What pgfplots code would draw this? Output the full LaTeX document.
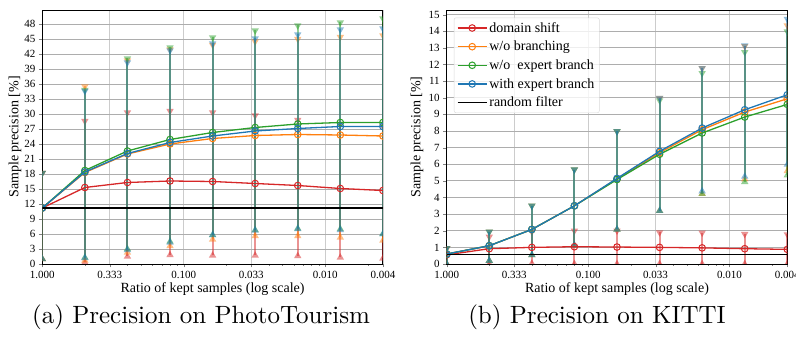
\documentclass[border=0pt]{standalone}
\usepackage{fontspec}
\usepackage{pgfplots}
\usepackage{pgfplotstable}
\pgfplotsset{compat=1.18}
\newfontfamily\timesf{Liberation Serif}
\definecolor{cred}{HTML}{D62728}
\definecolor{corange}{HTML}{FF7F0E}
\definecolor{cgreen}{HTML}{2CA02C}
\definecolor{cblue}{HTML}{1F77B4}

% PhotoTourism
\pgfplotstableread{
x y hi lo
1 11.2 18.2 1.0
0.5 15.3 28.6 0.3
0.25 16.3 30.3 1.5
0.125 16.6 30.6 1.8
0.0625 16.5 30.3 1.7
0.03125 16.1 29.7 1.7
0.015625 15.7 28.8 1.6
0.0078125 15.1 28.0 1.3
0.00390625 14.7 27.5 1.1
}\ptred
\pgfplotstableread{
x y hi lo
1 11.2 18.2 1.0
0.5 18.3 35.5 0.7
0.25 22.0 40.7 2.3
0.125 24.0 42.9 3.6
0.0625 25.1 43.8 4.9
0.03125 25.7 44.5 5.6
0.015625 25.9 45.0 5.6
0.0078125 25.8 45.4 5.3
0.00390625 25.6 45.7 4.7
}\ptorange
\pgfplotstableread{
x y hi lo
1 11.2 18.2 1.0
0.5 18.7 34.8 1.3
0.25 22.6 41.1 3.0
0.125 24.9 43.3 4.5
0.0625 26.3 45.3 5.8
0.03125 27.3 46.7 6.8
0.015625 28.0 47.7 7.1
0.0078125 28.3 48.3 7.0
0.00390625 28.3 49.1 6.0
}\ptgreen
\pgfplotstableread{
x y hi lo
1 11.2 18.2 1.0
0.5 18.4 34.6 1.2
0.25 22.1 40.3 2.8
0.125 24.3 42.7 4.3
0.0625 25.6 44.1 5.8
0.03125 26.6 45.1 6.7
0.015625 27.1 45.9 7.0
0.0078125 27.5 46.9 6.8
0.00390625 27.5 47.1 6.0
}\ptblue

% KITTI
\pgfplotstableread{
x y hi lo
1 0.55 0.95 0.0
0.5 0.92 1.64 0.0
0.25 1.0 1.94 0.03
0.125 1.04 2.0 0.0
0.0625 1.02 2.0 0.0
0.03125 1.0 1.9 0.0
0.015625 0.97 1.88 0.0
0.0078125 0.92 1.8 0.0
0.00390625 0.88 1.78 0.0
}\kired
\pgfplotstableread{
x y hi lo
1 0.6 0.95 0.0
0.5 1.1 1.94 0.2
0.25 2.08 3.5 0.54
0.125 3.5 5.68 1.12
0.0625 5.12 7.98 2.08
0.03125 6.7 9.98 3.2
0.015625 8.08 11.78 4.22
0.0078125 9.14 13.1 5.1
0.00390625 9.94 14.34 5.6
}\kiorange
\pgfplotstableread{
x y hi lo
1 0.6 0.95 0.0
0.5 1.1 1.94 0.2
0.25 2.08 3.5 0.54
0.125 3.5 5.68 1.12
0.0625 5.08 7.98 2.08
0.03125 6.6 9.84 3.2
0.015625 7.88 11.48 4.22
0.0078125 8.84 12.74 4.94
0.00390625 9.6 13.98 5.34
}\kigreen
\pgfplotstableread{
x y hi lo
1 0.6 0.95 0.0
0.5 1.1 1.94 0.2
0.25 2.08 3.5 0.54
0.125 3.5 5.68 1.12
0.0625 5.15 7.98 2.08
0.03125 6.78 9.98 3.2
0.015625 8.18 11.78 4.38
0.0078125 9.28 13.14 5.26
0.00390625 10.18 14.74 5.98
}\kiblue

\newcommand\errs[2]{%
  \addplot[forget plot, mark=none, draw=none,
    error bars/y dir=both, error bars/y explicit, error bars/error mark=none,
    error bars/error bar style={line width=2pt, draw=#2, draw opacity=0.5}]
    table[x=x, y=y, y error plus expr=\thisrow{hi}-\thisrow{y},
          y error minus expr=\thisrow{y}-\thisrow{lo}] {#1};
  \addplot[forget plot, only marks, color=#2, mark=triangle*, mark size=4.3pt,
    mark options={rotate=180, draw=#2, fill=#2, draw opacity=0, fill opacity=0.5}]
    table[x=x, y=hi] {#1};
  \addplot[forget plot, only marks, color=#2, mark=triangle*, mark size=4.3pt,
    mark options={draw=#2, fill=#2, draw opacity=0, fill opacity=0.5}]
    table[x=x, y=lo] {#1};
}
\newcommand\meanline[2]{%
  \addplot[color=#2, line width=1.3pt, mark=o, mark size=3.3pt,
    mark options={line width=1pt}] table[x=x, y=y] {#1};
}

\pgfplotsset{every axis/.append style={
    scale only axis,
    width=340.6pt, height=254pt,
    ymin=0,
    tick label style={font=\timesf\fontsize{11}{13}\selectfont},
    label style={font=\timesf\fontsize{14}{16}\selectfont},
    tick align=outside,
    major tick length=3.5pt,
    minor tick length=2pt,
    xmajorgrids, ymajorgrids,
    x grid style={black!20, line width=0.8pt},
    y grid style={black!32, line width=0.8pt},
    axis line style={black, line width=0.9pt},
    clip marker paths=true,
  }}

\begin{document}
\begin{tikzpicture}
\useasboundingbox (0,0) rectangle (796pt,337pt);

\begin{axis}[at={(42.3pt,73pt)}, anchor=south west,
    xmode=log, x dir=reverse,
    xmin=0.00390625, xmax=1,
    xtick={1,0.333333,0.1,0.0333333,0.01,0.00390625},
    xticklabels={1.000,0.333,0.100,0.033,0.010,0.004},
    minor xtick={0.5,0.25,0.2,0.1666667,0.1428571,0.125,0.1111111,
      0.05,0.025,0.02,0.0166667,0.0142857,0.0125,0.0111111,0.005},
    /pgf/number format/assume math mode=true,
    xtick pos=bottom, ytick pos=left,
    xlabel={Ratio of kept samples (log scale)},
    ylabel={Sample precision [\%]},
    xlabel style={at={(axis description cs:0.5,-0.1)}, anchor=center},
    ylabel style={at={(axis description cs:-0.08,0.5)}, rotate=0, anchor=center},
    ymax=50.8, ytick={0,3,...,48}]
  \errs{\ptred}{cred}
  \errs{\ptorange}{corange}
  \errs{\ptgreen}{cgreen}
  \errs{\ptblue}{cblue}
  \meanline{\ptred}{cred}
  \meanline{\ptorange}{corange}
  \meanline{\ptgreen}{cgreen}
  \meanline{\ptblue}{cblue}
  \addplot[black, line width=1.2pt, mark=none] coordinates {(1,11.2) (0.00390625,11.2)};
\end{axis}

\begin{axis}[at={(446.7pt,73pt)}, anchor=south west,
    xmode=log, x dir=reverse,
    xmin=0.00390625, xmax=1,
    xtick={1,0.333333,0.1,0.0333333,0.01,0.00390625},
    xticklabels={1.000,0.333,0.100,0.033,0.010,0.004},
    minor xtick={0.5,0.25,0.2,0.1666667,0.1428571,0.125,0.1111111,
      0.05,0.025,0.02,0.0166667,0.0142857,0.0125,0.0111111,0.005},
    /pgf/number format/assume math mode=true,
    xtick pos=bottom, ytick pos=left,
    xlabel={Ratio of kept samples (log scale)},
    ylabel={Sample precision [\%]},
    xlabel style={at={(axis description cs:0.5,-0.1)}, anchor=center},
    ylabel style={at={(axis description cs:-0.087,0.5)}, rotate=0, anchor=center},
    ymax=15.28, ytick={0,1,...,15},
    legend style={at={(0.021,0.97)}, anchor=north west, draw=black!15,
      rounded corners=2pt, fill=white, fill opacity=0.8, text opacity=1,
      font=\timesf\fontsize{14}{16}\selectfont, row sep=3.4pt,
      inner xsep=3pt, inner ysep=2.5pt},
    legend cell align=left,
    legend image code/.code={\draw[mark repeat=2, mark phase=2]
      plot coordinates {(0pt,0pt) (14.5pt,0pt) (29pt,0pt)};}]
  \errs{\kired}{cred}
  \errs{\kiorange}{corange}
  \errs{\kigreen}{cgreen}
  \errs{\kiblue}{cblue}
  \meanline{\kired}{cred}
  \meanline{\kiorange}{corange}
  \meanline{\kigreen}{cgreen}
  \meanline{\kiblue}{cblue}
  \addplot[black, line width=1.2pt, mark=none] coordinates {(1,0.57) (0.00390625,0.57)};
  \legend{domain shift, w/o branching, w/o\ \ expert branch, with expert branch, random filter}
\end{axis}

\node[anchor=base] at (201pt,13pt) {\scalebox{2.5}{(a) Precision on PhotoTourism}};
\node[anchor=base] at (597pt,13pt) {\scalebox{2.5}{(b) Precision on KITTI}};
\end{tikzpicture}
\end{document}
